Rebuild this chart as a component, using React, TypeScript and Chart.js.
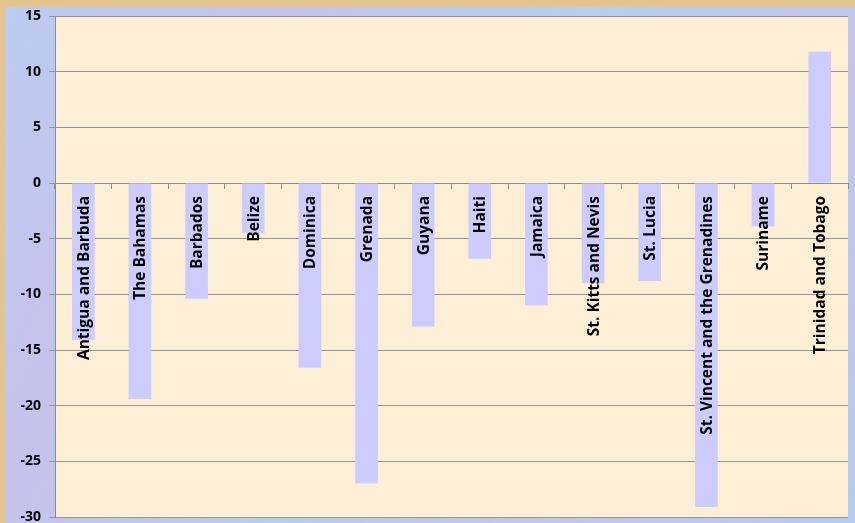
import React, { useEffect, useRef } from "react";
import { Chart, registerables } from "chart.js";

Chart.register(...registerables);

const categories = [
  "Antigua and Barbuda",
  "The Bahamas",
  "Barbados",
  "Belize",
  "Dominica",
  "Grenada",
  "Guyana",
  "Haiti",
  "Jamaica",
  "St. Kitts and Nevis",
  "St. Lucia",
  "St. Vincent and the Grenadines",
  "Suriname",
  "Trinidad and Tobago",
];

const values = [-14.1, -19.4, -10.4, -4.5, -16.6, -27.0, -12.9, -6.8, -11.0, -9.0, -8.8, -29.1, -3.9, 11.8];

const yMin = -30;
const yMax = 15;
const yStep = 5;

const LABEL_FONT = "bold 15.5px 'Open Sans', 'Liberation Sans', sans-serif";

const backgroundPlugin = {
  id: "bgPlugin",
  beforeDraw(chart: any) {
    const { ctx, width, height, chartArea } = chart;
    ctx.save();
    ctx.fillStyle = "#e4c68c";
    ctx.fillRect(0, 0, width, height);
    const g = ctx.createLinearGradient(5, 7, width, height);
    g.addColorStop(0, "#bccbf0");
    g.addColorStop(0.25, "#c6c2ec");
    g.addColorStop(0.5, "#b4cff0");
    g.addColorStop(0.75, "#c4c4ee");
    g.addColorStop(1, "#b2ccf2");
    ctx.fillStyle = g;
    ctx.fillRect(5, 7, width - 5, height - 7);
    ctx.fillStyle = "#fcefd6";
    ctx.fillRect(chartArea.left, chartArea.top, chartArea.right - chartArea.left, chartArea.bottom - chartArea.top);
    ctx.restore();
  },
};

const labelPlugin = {
  id: "innerLabels",
  afterDatasetsDraw(chart: any) {
    const { ctx } = chart;
    const xs = chart.scales.x;
    const ys = chart.scales.y;
    const y0 = ys.getPixelForValue(0);
    ctx.save();
    ctx.font = LABEL_FONT;
    ctx.fillStyle = "#000000";
    ctx.textAlign = "right";
    ctx.textBaseline = "middle";
    categories.forEach((c, i) => {
      const x = xs.getPixelForValue(i);
      ctx.save();
      ctx.translate(x + 1, y0 + 13);
      ctx.rotate(-Math.PI / 2);
      ctx.fillText(c, 0, 0);
      ctx.restore();
    });
    ctx.restore();
  },
};

export default function App() {
  const ref = useRef<HTMLCanvasElement>(null);
  useEffect(() => {
    if (!ref.current) return;
    const chart = new Chart(ref.current, {
      type: "bar",
      data: {
        labels: categories,
        datasets: [
          {
            data: values,
            backgroundColor: "#ccccff",
            borderWidth: 0,
            categoryPercentage: 1,
            barPercentage: 0.4,
          },
        ],
      },
      options: {
        responsive: false,
        animation: false,
        layout: { padding: { left: 6, top: 16, right: 7, bottom: 6 } },
        plugins: { legend: { display: false }, tooltip: { enabled: false } },
        scales: {
          x: {
            position: { y: 0 } as any,
            offset: true,
            grid: {
              offset: true,
              drawOnChartArea: false,
              drawTicks: true,
              tickLength: 5,
              color: "#8c8c8c",
            },
            border: { display: true, color: "#8c8c8c", width: 1 },
            ticks: { display: false },
          },
          y: {
            min: yMin,
            max: yMax,
            ticks: {
              stepSize: yStep,
              color: "#000000",
              font: { family: "'Open Sans', 'Liberation Sans', sans-serif", size: 14, weight: "bold" },
              padding: 8,
            },
            grid: { color: "#959595", lineWidth: 1, tickLength: 6 },
            border: { display: true, color: "#8c8c8c" },
            afterFit: (s: any) => {
              s.width = 49;
              s.paddingTop = 0;
              s.paddingBottom = 0;
            },
          },
        },
      },
      plugins: [backgroundPlugin, labelPlugin],
    });
    return () => chart.destroy();
  }, []);
  return (
    <div style={{ position: "absolute", left: 0, top: 0, width: 855, height: 523, overflow: "hidden" }}>
      <canvas ref={ref} width={855} height={523} style={{ display: "block" }} />
    </div>
  );
}
